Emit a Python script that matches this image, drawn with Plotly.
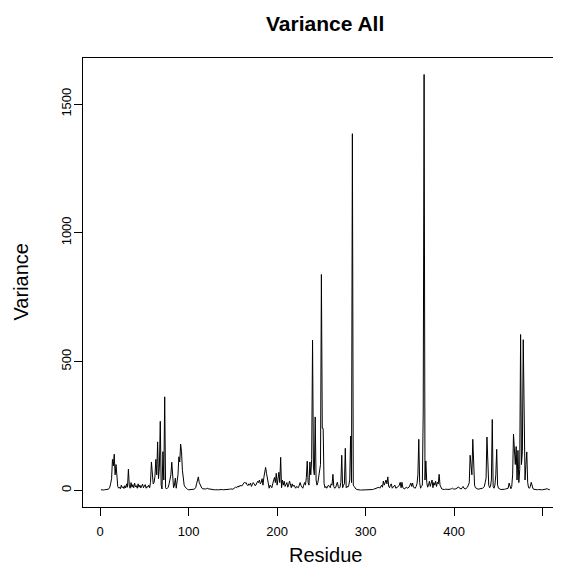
import plotly.graph_objects as go

# Variance per residue
variance = [
    2, 1, 1, 1, 2, 2, 3, 3, 4, 6,
    12, 27, 45, 120, 95, 140, 60, 100, 30, 15,
    8, 12, 6, 20, 10, 14, 7, 18, 9, 25,
    12, 82, 20, 8, 30, 12, 22, 10, 28, 14,
    18, 8, 25, 12, 20, 9, 16, 24, 10, 14,
    22, 8, 15, 12, 20, 10, 30, 110, 40, 25,
    30, 55, 120, 60, 188, 45, 90, 268, 20, 5,
    150, 40, 363, 10, 5, 8, 12, 25, 40, 60,
    109, 30, 10, 20, 47, 8, 30, 60, 130, 110,
    179, 150, 78, 40, 20, 13, 8, 5, 3, 2,
    2, 2, 2, 3, 3, 4, 6, 10, 25, 40,
    52, 30, 23, 12, 8, 6, 5, 4, 5, 6,
    8, 6, 5, 4, 4, 3, 3, 2, 2, 2,
    3, 3, 2, 2, 3, 3, 4, 3, 2, 2,
    3, 2, 2, 3, 3, 4, 5, 6, 5, 4,
    6, 8, 12, 10, 15, 12, 18, 15, 20, 16,
    22, 25, 31, 28, 30, 22, 18, 25, 20, 28,
    15, 22, 30, 25, 18, 20, 28, 35, 30, 40,
    25, 30, 45, 20, 50, 70, 89, 66, 40, 12,
    8, 20, 15, 10, 25, 35, 50, 30, 66, 20,
    45, 70, 30, 128, 10, 40, 20, 35, 15, 25,
    30, 12, 20, 36, 18, 10, 25, 15, 20, 12,
    8, 15, 12, 10, 20, 30, 18, 12, 8, 20,
    30, 20, 50, 113, 30, 20, 110, 60, 120, 583,
    90, 60, 285, 40, 20, 30, 60, 80, 100, 838,
    241, 240, 27, 10, 15, 8, 12, 20, 15, 10,
    25, 20, 62, 15, 8, 10, 20, 31, 15, 8,
    12, 30, 136, 10, 20, 25, 163, 10, 15, 12,
    20, 40, 211, 30, 1385, 20, 15, 8, 5, 3,
    2, 2, 1, 1, 1, 1, 1, 1, 2, 2,
    1, 1, 1, 2, 2, 2, 3, 3, 4, 5,
    5, 6, 8, 10, 12, 8, 15, 20, 12, 36,
    20, 30, 40, 25, 52, 15, 10, 20, 25, 8,
    12, 15, 20, 8, 10, 12, 15, 20, 31, 10,
    31, 10, 8, 5, 10, 12, 8, 10, 12, 20,
    28, 15, 28, 12, 10, 8, 15, 25, 60, 198,
    30, 8, 15, 20, 300, 1615, 40, 114, 30, 12,
    20, 35, 15, 25, 40, 10, 30, 20, 35, 15,
    31, 25, 62, 20, 8, 5, 4, 3, 3, 4,
    5, 4, 3, 3, 4, 5, 6, 8, 5, 4,
    5, 6, 8, 10, 13, 8, 6, 5, 10, 15,
    8, 6, 5, 10, 12, 20, 30, 136, 90, 60,
    198, 71, 20, 10, 8, 5, 4, 5, 6, 4,
    5, 8, 10, 15, 30, 47, 207, 71, 20, 10,
    15, 40, 275, 15, 8, 20, 60, 159, 20, 8,
    5, 4, 3, 3, 2, 3, 4, 5, 6, 8,
    8, 28, 10, 6, 15, 60, 218, 171, 100, 170,
    40, 155, 30, 80, 605, 100, 150, 585, 143, 40,
    100, 149, 30, 10, 8, 15, 31, 12, 6, 4,
    3, 2, 2, 2, 3, 2, 2, 3, 2, 2,
    3, 4, 2, 5, 6, 4, 3, 2,
]
residue = list(range(1, len(variance) + 1))

x_ticks = [0, 100, 200, 300, 400, 500]
y_ticks = [0, 500, 1000, 1500]

FONT = "Liberation Sans, Arial, Helvetica, sans-serif"

fig = go.Figure()
fig.add_trace(go.Scatter(
    x=residue, y=variance, mode="lines",
    line=dict(color="black", width=1),
    hoverinfo="x+y", showlegend=False,
))

# page has an 8px body margin; keep the figure inside the viewport
W, H = 545, 561
L, T, B = 75, 50, 62.3
PW = W - L
fig.update_layout(
    width=W, height=H,
    margin=dict(l=L, r=0, t=T, b=B, pad=0),
    paper_bgcolor="white", plot_bgcolor="white",
    font=dict(family=FONT, color="black", size=13),
    showlegend=False,
)
fig.update_xaxes(
    range=[-19.28, 511.6], tickvals=x_ticks, ticktext=[str(v) for v in x_ticks],
    showgrid=False, zeroline=False, showline=True, linecolor="black", linewidth=1,
    mirror=True, ticks="outside", ticklen=8, tickcolor="black",
    tickfont=dict(size=13, family=FONT), ticklabelstandoff=4,
)
fig.update_yaxes(
    range=[-64.9, 1679], tickvals=y_ticks, ticktext=[str(v) for v in y_ticks],
    showgrid=False, zeroline=False, showline=True, linecolor="black", linewidth=1,
    mirror=False, ticks="outside", ticklen=8, tickcolor="black", tickangle=-90,
    tickfont=dict(size=13, family=FONT), ticklabelstandoff=-2,
)

cx = (317 - L) / PW
fig.add_annotation(text="<b>Variance All</b>", xref="paper", yref="paper",
                   x=cx, y=1, yshift=35, xanchor="center", yanchor="middle",
                   showarrow=False, font=dict(size=21, family=FONT))
fig.add_annotation(text="Residue", xref="paper", yref="paper",
                   x=cx, y=0, yanchor="middle", xanchor="center",
                   yshift=-48, showarrow=False, font=dict(size=20, family=FONT))
fig.add_annotation(text="Variance", xref="paper", yref="paper",
                   x=0, y=0.5, xanchor="center", yanchor="middle", xshift=-63,
                   textangle=-90, showarrow=False, font=dict(size=20, family=FONT))

fig.write_html("out.html")
